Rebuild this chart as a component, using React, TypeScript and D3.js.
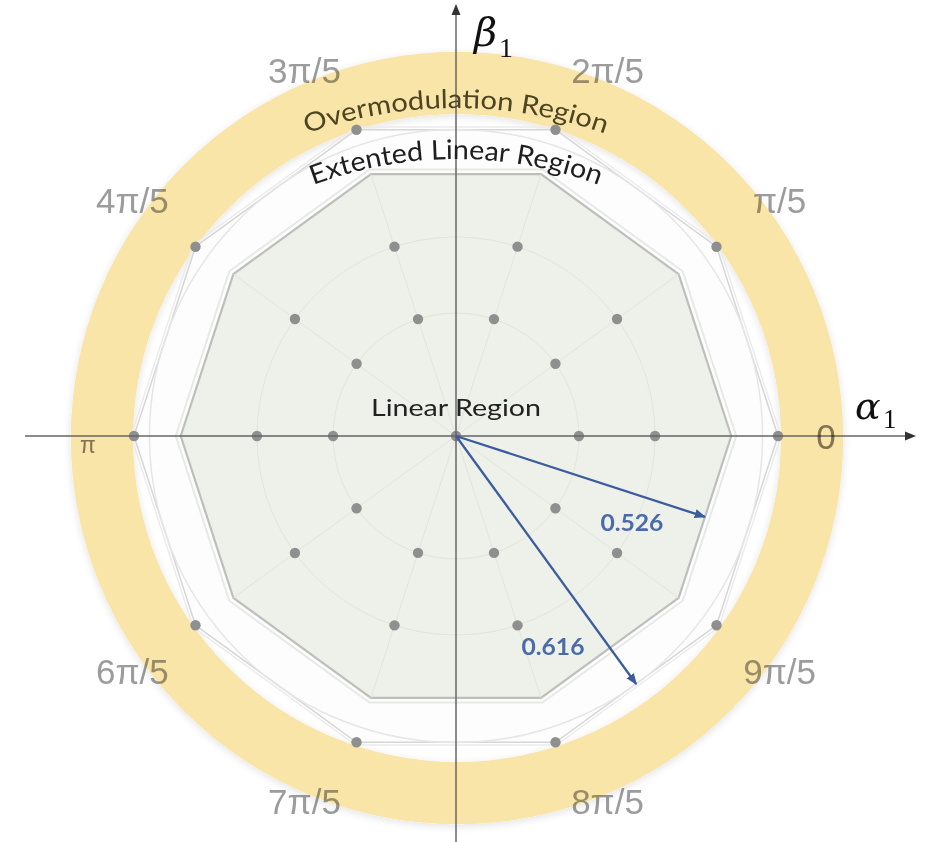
import React from "react";
import * as d3 from "d3";

// Space-vector diagram of a five-phase inverter in the α1–β1 plane

const W = 929;
const H = 842;
const CX = 456;
const CY = 436;

// sector index k -> angle k·π/5
const sectors = [0, 1, 2, 3, 4, 5, 6, 7, 8, 9];
// small, medium and large voltage-vector magnitudes (per unit of Vdc)
const vectorMagnitudes = [0.247, 0.4, 0.647];
// sector angle labels
const angleLabels = ["0", "π/5", "2π/5", "3π/5", "4π/5", "π", "6π/5", "7π/5", "8π/5", "9π/5"];
// reference-vector limits: linear region and extended linear region
const limitValues = [0.526, 0.616];
const limitAngles = [-Math.PI / 10, -3 * Math.PI / 10];
const limitLabels = ["0.526", "0.616"];
// overmodulation band (inner, outer magnitude)
const overmodBand = [0.651, 0.776];
const regionNames = ["Linear Region", "Extented Linear Region", "Overmodulation Region"];

const r = d3.scaleLinear().domain([0, 0.647]).range([0, 322]);

const polar = (v: number, a: number): [number, number] => [
  CX + r(v) * Math.cos(a),
  CY - r(v) * Math.sin(a),
];

const closedLine = d3.line<[number, number]>().curve(d3.curveLinearClosed);

const decagon = (v: number) => closedLine(sectors.map((k) => polar(v, (k * Math.PI) / 5)));

export default function App() {
  const large = vectorMagnitudes[2];
  // linear region: decagon whose apothem equals the first limit
  const linearVertex = limitValues[0] / Math.cos(Math.PI / 10);
  const inscribed = limitValues[1];

  const ring = d3
    .arc<any>()
    .innerRadius(r(overmodBand[0]))
    .outerRadius(r(overmodBand[1]))
    .startAngle(0)
    .endAngle(2 * Math.PI)({} as any) as string;

  const dots: [number, number][] = [[CX, CY]];
  vectorMagnitudes.forEach((v) =>
    sectors.forEach((k) => dots.push(polar(v, (k * Math.PI) / 5)))
  );

  const grey = "#9c9c9c";
  const axisCol = "#666";
  const blue = "#3b5d9f";

  // angle label placement
  const labelPos = (k: number): [number, number] => {
    let rad = 400;
    let a = (k * Math.PI) / 5;
    if (k === 0) rad = 370;
    if (k === 5) rad = 368;
    if (k === 2 || k === 8) { rad = 396; a -= (4.5 * Math.PI) / 180 * (k === 2 ? 1 : -1); }
    if (k === 3 || k === 7) { rad = 396; a += (4.5 * Math.PI) / 180 * (k === 3 ? 1 : -1); }
    return [CX + rad * Math.cos(a), CY - rad * Math.sin(a) + (k === 5 ? 9 : 0)];
  };

  const arcPath = (cy: number, R: number) =>
    `M ${CX - R} ${cy} A ${R} ${R} 0 0 1 ${CX + R} ${cy}`;

  const regionFont = "Lato, 'Open Sans', sans-serif";

  return (
    <svg
      width={W}
      height={H}
      viewBox={`0 0 ${W} ${H}`}
      style={{ position: "absolute", left: 0, top: 0, background: "#fff" }}
    >
      <defs>
        <filter id="soft" x="-20%" y="-20%" width="140%" height="140%">
          <feGaussianBlur stdDeviation="0.7" />
        </filter>
        <filter id="ringShadow" x="-10%" y="-10%" width="120%" height="120%">
          <feGaussianBlur in="SourceAlpha" stdDeviation="4" result="b" />
          <feOffset dx="0" dy="2" in="b" result="o" />
          <feComponentTransfer in="o" result="s">
            <feFuncA type="linear" slope="0.12" />
          </feComponentTransfer>
          <feMerge>
            <feMergeNode in="s" />
            <feMergeNode in="SourceGraphic" />
          </feMerge>
        </filter>
        <marker id="arrowBlue" viewBox="0 0 10 10" refX="9" refY="5" markerWidth="5" markerHeight="5" orient="auto">
          <path d="M0,1 L10,5 L0,9 Z" fill={blue} />
        </marker>
        <path id="overmodArc" d={arcPath(554, 446)} />
        <path id="extArc" d={arcPath(563, 404)} />
      </defs>

      {/* overmodulation band */}
      <path d={ring} transform={`translate(${CX + 1},${CY + 2})`} fill="#f9e5a8" filter="url(#ringShadow)" />

      {/* extended linear region: decagon of large vectors */}
      <path d={decagon(large + 0.006) as string} fill="none" stroke="#ececec" strokeWidth={1.5} />
      <path d={decagon(large) as string} fill="#fdfdfd" stroke="#d6d6d6" strokeWidth={1.5} />
      <circle cx={CX} cy={CY} r={r(inscribed)} fill="none" stroke="#e6e6e6" strokeWidth={1.5} />

      {/* linear region */}
      <path d={decagon(linearVertex + 0.01) as string} fill="none" stroke="#e8e8e8" strokeWidth={2} />
      <path d={decagon(linearVertex) as string} fill="#eef0ea" stroke="#bdbfba" strokeWidth={2.2} />

      {/* faint polar grid */}
      <g stroke="#e2e4de" strokeWidth={1} fill="none">
        {vectorMagnitudes.slice(0, 2).map((v) => (
          <circle key={v} cx={CX} cy={CY} r={r(v)} />
        ))}
        {sectors.map((k) => {
          const [x, y] = polar(linearVertex, (k * Math.PI) / 5);
          return <line key={k} x1={CX} y1={CY} x2={x} y2={y} />;
        })}
      </g>

      {/* voltage vectors */}
      <g fill="#8f8f8f" filter="url(#soft)">
        {dots.map(([x, y], i) => (
          <circle key={i} cx={x} cy={y} r={5.2} />
        ))}
      </g>

      {/* axes */}
      <g stroke={axisCol} strokeWidth={1.5}>
        <line x1={25} y1={CY} x2={906} y2={CY} />
        <line x1={CX} y1={H} x2={CX} y2={14} />
      </g>
      <path d={`M916,${CY} L905,${CY - 4.5} L905,${CY + 4.5} Z`} fill="#333" />
      <path d={`M${CX},4 L${CX - 4.5},15 L${CX + 4.5},15 Z`} fill="#333" />

      {/* axis titles */}
      <text x={474} y={46} fontFamily="'DejaVu Serif', serif" fontStyle="italic" fontSize={40} fill="#111">
        β
      </text>
      <text x={499} y={57} fontFamily="'Liberation Serif', serif" fontSize={28} fill="#111">
        1
      </text>
      <text x={855} y={419} fontFamily="'DejaVu Serif', serif" fontStyle="italic" fontSize={38} fill="#111">
        α
      </text>
      <text x={883} y={428} fontFamily="'Liberation Serif', serif" fontSize={27} fill="#111">
        1
      </text>

      {/* sector angle labels */}
      <g fontFamily="'Liberation Sans', Arial, sans-serif" style={{ mixBlendMode: "multiply" }}>
        {sectors.map((k) => {
          const [x, y] = labelPos(k);
          return (
            <text
              key={k}
              x={x}
              y={y}
              fontSize={k === 5 ? 23 : 35}
              textAnchor="middle"
              dominantBaseline="central"
              fill={k === 0 || k === 5 ? "#85807a" : grey}
            >
              {angleLabels[k]}
            </text>
          );
        })}
      </g>

      {/* reference-vector limits */}
      {limitValues.map((v, i) => {
        const [x2, y2] = polar(v, limitAngles[i]);
        const ux = Math.cos(limitAngles[i]);
        const uy = -Math.sin(limitAngles[i]);
        const t = r(v) * 0.74;
        const off = i === 0 ? 27 : 45;
        const lx = CX + ux * t - uy * off;
        const ly = CY + uy * t + ux * off;
        return (
          <g key={i}>
            <line x1={CX} y1={CY} x2={x2} y2={y2} stroke={blue} strokeWidth={2.3} markerEnd="url(#arrowBlue)" />
            <text
              x={lx}
              y={ly}
              textAnchor="middle"
              dominantBaseline="central"
              fontFamily={regionFont}
              fontWeight={700}
              fontSize={23}
              fill="#4a6aa8"
              textLength={63}
              lengthAdjust="spacingAndGlyphs"
            >
              {limitLabels[i]}
            </text>
          </g>
        );
      })}

      {/* region names */}
      <text x={CX} y={416} textAnchor="middle" fontFamily={regionFont} fontSize={24} fill="#222" textLength={170} lengthAdjust="spacingAndGlyphs">
        {regionNames[0]}
      </text>
      <text fontFamily={regionFont} fontSize={27} fill="#1e1e1e">
        <textPath href="#extArc" startOffset="50%" textAnchor="middle" textLength={292} lengthAdjust="spacingAndGlyphs">
          {regionNames[1]}
        </textPath>
      </text>
      <text fontFamily={regionFont} fontSize={26} fill="#4d4422">
        <textPath href="#overmodArc" startOffset="50%" textAnchor="middle" textLength={304} lengthAdjust="spacingAndGlyphs">
          {regionNames[2]}
        </textPath>
      </text>
    </svg>
  );
}
